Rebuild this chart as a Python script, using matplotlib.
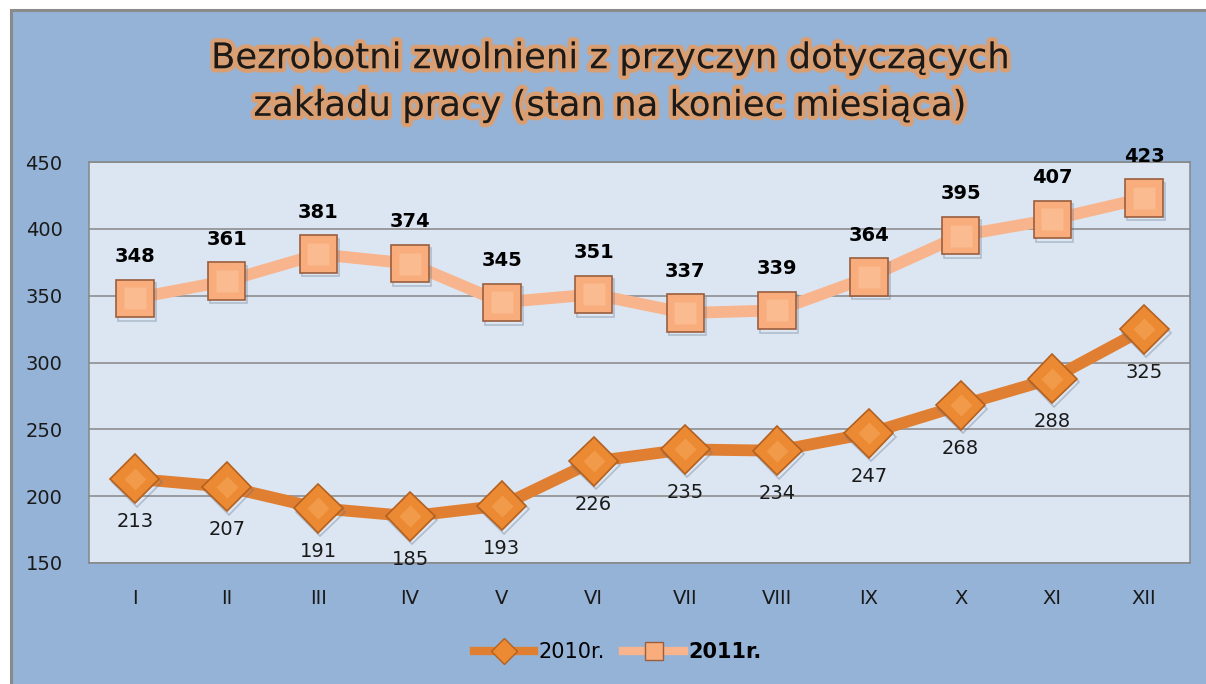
import matplotlib.pyplot as plt
import matplotlib.patheffects as pe
from matplotlib.patches import Rectangle
import numpy as np

months = ["I", "II", "III", "IV", "V", "VI", "VII", "VIII", "IX", "X", "XI", "XII"]
y2010 = [213, 207, 191, 185, 193, 226, 235, 234, 247, 268, 288, 325]
y2011 = [348, 361, 381, 374, 345, 351, 337, 339, 364, 395, 407, 423]
yticks = [150, 200, 250, 300, 350, 400, 450]

title = "Bezrobotni zwolnieni z przyczyn dotyczących\nzakładu pracy (stan na koniec miesiąca)"

plt.rcParams['font.family'] = ['DejaVu Sans']

fig = plt.figure(figsize=(12.06, 6.84), dpi=100, facecolor="white")
# outer chart frame
frame = Rectangle((11 / 1206, -0.01), 1.02, 1 - 10 / 684 + 0.01,
                  transform=fig.transFigure, facecolor="#95b3d7",
                  edgecolor="#8a8a8a", linewidth=2.2, zorder=-5)
fig.patches.append(frame)

ax = fig.add_axes([89 / 1206, 1 - 563 / 684, (1190 - 89) / 1206, (563 - 162) / 684])
ax.set_zorder(2)
ax.set_facecolor("#dce6f2")

x = np.arange(len(months))
shadow = [pe.SimpleLineShadow(offset=(1.5, -2.5), shadow_color="#5a6e8a", alpha=0.35), pe.Normal()]

# lines
ax.plot(x, y2010, color="#e07f32", lw=8.5, solid_capstyle="butt", zorder=3)
ax.plot(x, y2011, color="#f8b48c", lw=8.5, solid_capstyle="butt", zorder=3)

# markers (with a soft inner highlight for the bevel look)
ax.plot(x, y2010, ls="none", marker="D", ms=25, mfc="#ec8a34", mec="#b4601f", mew=1.2,
        zorder=4, path_effects=shadow)
ax.plot(x, y2010, ls="none", marker="D", ms=11, mfc="#f6a85c", mec="none", alpha=0.55, zorder=5)
ax.plot(x, y2011, ls="none", marker="s", ms=27, mfc="#f9ad7c", mec="#9a5e3e", mew=1.2,
        zorder=4, path_effects=shadow)
ax.plot(x, y2011, ls="none", marker="s", ms=16, mfc="#fcc8a2", mec="none", alpha=0.55, zorder=5)

# data labels
for xi, v in zip(x, y2010):
    ax.annotate(str(v), (xi, v), xytext=(0, -31), textcoords="offset points",
                ha="center", va="center", fontsize=14, color="#1a1a1a", zorder=6,
                annotation_clip=False)
for xi, v in zip(x, y2011):
    ax.annotate(str(v), (xi, v), xytext=(0, 30), textcoords="offset points",
                ha="center", va="center", fontsize=14, fontweight="bold",
                color="#000000", zorder=6, annotation_clip=False)

ax.set_xlim(-0.5, len(months) - 0.5)
ax.set_ylim(150, 450)
ax.set_yticks(yticks)
ax.set_xticks(x)
ax.set_xticklabels(months)
ax.tick_params(axis="both", length=0, labelsize=14, colors="#1a1a1a")
ax.tick_params(axis="y", pad=19)
ax.tick_params(axis="x", pad=19)
ax.grid(axis="y", color="#868686", lw=1.1, zorder=1)
ax.set_axisbelow(True)
for s in ax.spines.values():
    s.set_color("#868686")
    s.set_linewidth(1.1)

# legend
h1, = ax.plot([], [], color="#e07f32", lw=6, marker="D", ms=13, mfc="#ec8a34", mec="#b4601f")
h2, = ax.plot([], [], color="#f8b48c", lw=6, marker="s", ms=13, mfc="#f9ad7c", mec="#9a5e3e")
leg = fig.legend([h1, h2], ["2010r.", "2011r."], loc="center", bbox_to_anchor=(0.512, 1 - 652 / 684),
                 ncol=2, frameon=False, fontsize=15, handlelength=2.9, columnspacing=0.9,
                 handletextpad=0.2)
leg.get_texts()[1].set_fontweight("bold")

# title with orange glow
fig.text(610 / 1206, 1 - 82 / 684, title, ha="center", va="center", fontsize=25.5,
         linespacing=1.5, color="#1a1a1a",
         path_effects=[pe.withStroke(linewidth=6, foreground="#f79646", alpha=0.7)])

fig.savefig("out.png", dpi=100, facecolor=fig.get_facecolor())
